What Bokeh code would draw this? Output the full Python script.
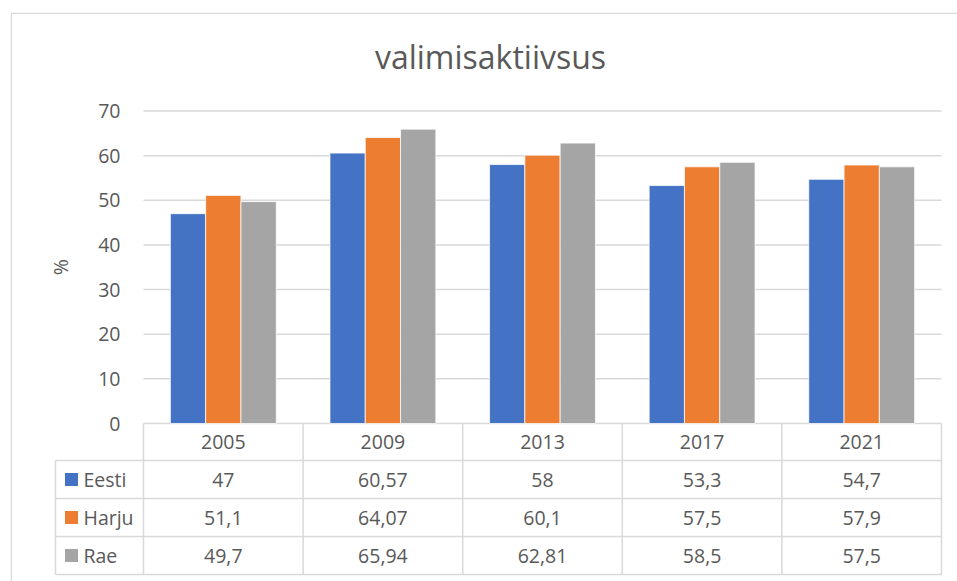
import math
from bokeh.plotting import figure
from bokeh.models import Range1d
from bokeh.core.properties import value
from bokeh.embed import file_html
from bokeh.resources import INLINE

# ---- data ----
title = "valimisaktiivsus"
years = ["2005", "2009", "2013", "2017", "2021"]
series_names = ["Eesti", "Harju", "Rae"]
eesti = [47, 60.57, 58, 53.3, 54.7]
harju = [51.1, 64.07, 60.1, 57.5, 57.9]
rae = [49.7, 65.94, 62.81, 58.5, 57.5]
y_ticks = [0, 10, 20, 30, 40, 50, 60, 70]
y_label = "%"
colors = ["#4472C4", "#ED7D31", "#A5A5A5"]
series = [eesti, harju, rae]

# ---- layout (page pixels; the figure sits at the page origin) ----
FONT = value("Open Sans")
TXT = "#595959"
LINE = "#d9d9d9"
X0_PX, Y0_PX = 143.0, 423.0          # page position of (x=0, y=0)
PX_X = (941.0 - 143.0) / len(years)   # px per category
PX_Y = (423.0 - 110.5) / 70.0         # px per unit
W, H = 957, 581
FR_L, FR_T = 10.0, 12.0
FR_R, FR_B = float(W), float(H)


def dx(px):
    return (px - X0_PX) / PX_X


def dy(py):
    return (Y0_PX - py) / PX_Y


n = len(years)
p = figure(width=W, height=H, min_border_left=int(FR_L), min_border_top=int(FR_T),
           min_border_right=0, min_border_bottom=0,
           x_range=Range1d(dx(FR_L), dx(FR_R)), y_range=Range1d(dy(FR_B), dy(FR_T)),
           x_axis_location=None, y_axis_location=None,
           toolbar_location=None, output_backend="svg")
p.grid.visible = False
p.outline_line_color = None
p.background_fill_color = "white"
p.border_fill_color = "white"

# chart area border (top and left edges visible)
p.segment(x0=[dx(FR_L + 0.75), dx(FR_L + 0.75)], x1=[dx(FR_R), dx(FR_L + 0.75)],
          y0=[dy(FR_T + 0.75), dy(FR_T + 0.75)], y1=[dy(FR_T + 0.75), dy(FR_B)],
          line_color=LINE, line_width=1.5)

# gridlines
p.segment(x0=[0] * len(y_ticks), x1=[n] * len(y_ticks), y0=y_ticks, y1=y_ticks,
          line_color=LINE, line_width=1.5)

# bars
BAR_W = 35.3 / PX_X
for j, (vals, col) in enumerate(zip(series, colors)):
    xs = [i + 0.5 + (j - 1) * BAR_W for i in range(n)]
    p.vbar(x=xs, top=vals, bottom=0, width=BAR_W, fill_color=col,
           line_color="white", line_width=0.75)

# y tick labels
p.text(x=[0] * len(y_ticks), y=y_ticks, text=[str(t) for t in y_ticks],
       x_offset=-23, text_align="right", text_baseline="middle",
       text_font=FONT, text_font_size="19.5px", text_color=TXT)

# y axis label
p.text(x=[dx(60)], y=[(y_ticks[0] + y_ticks[-1]) / 2], text=[y_label],
       angle=math.pi / 2, text_align="center", text_baseline="middle",
       text_font=FONT, text_font_size="19.5px", text_color=TXT)

# title
p.text(x=[dx(490)], y=[dy(56)], text=[title], text_align="center",
       text_baseline="middle", text_font=FONT, text_font_size="32px",
       text_color=TXT)

# ---- data table ----
HEADER_PX = 37.0
ROW_PX = 38.0
TBL_L = 55.0
hdr_bot = Y0_PX + HEADER_PX
row_lines = [hdr_bot + ROW_PX * k for k in range(len(series) + 1)]
tbl_bot = row_lines[-1]

# vertical lines
p.segment(x0=list(range(n + 1)), x1=list(range(n + 1)),
          y0=[0] * (n + 1), y1=[dy(tbl_bot)] * (n + 1), line_color=LINE, line_width=1.5)
p.segment(x0=[dx(TBL_L)], x1=[dx(TBL_L)], y0=[dy(hdr_bot)], y1=[dy(tbl_bot)],
          line_color=LINE, line_width=1.5)
# horizontal lines
p.segment(x0=[dx(TBL_L)] * len(row_lines), x1=[n] * len(row_lines),
          y0=[dy(r) for r in row_lines], y1=[dy(r) for r in row_lines],
          line_color=LINE, line_width=1.5)

# header
p.text(x=[i + 0.5 for i in range(n)], y=[dy(Y0_PX + HEADER_PX / 2)] * n, text=years,
       text_align="center", text_baseline="middle", text_font=FONT,
       text_font_size="19.5px", text_color=TXT)


def fmt(v):
    return f"{v:g}".replace(".", ",")


for j, (name, vals, col) in enumerate(zip(series_names, series, colors)):
    cy = dy(hdr_bot + ROW_PX * j + ROW_PX / 2)
    p.text(x=[i + 0.5 for i in range(n)], y=[cy] * n, text=[fmt(v) for v in vals],
           text_align="center", text_baseline="middle", text_font=FONT,
           text_font_size="19.5px", text_color=TXT)
    p.scatter(x=[dx(71)], y=[cy], marker="square", size=13, fill_color=col,
              line_color=None)
    p.text(x=[dx(83)], y=[cy], text=[name], text_align="left",
           text_baseline="middle", text_font=FONT, text_font_size="19.5px",
           text_color=TXT)

open("out.html", "w").write(file_html(p, INLINE))
